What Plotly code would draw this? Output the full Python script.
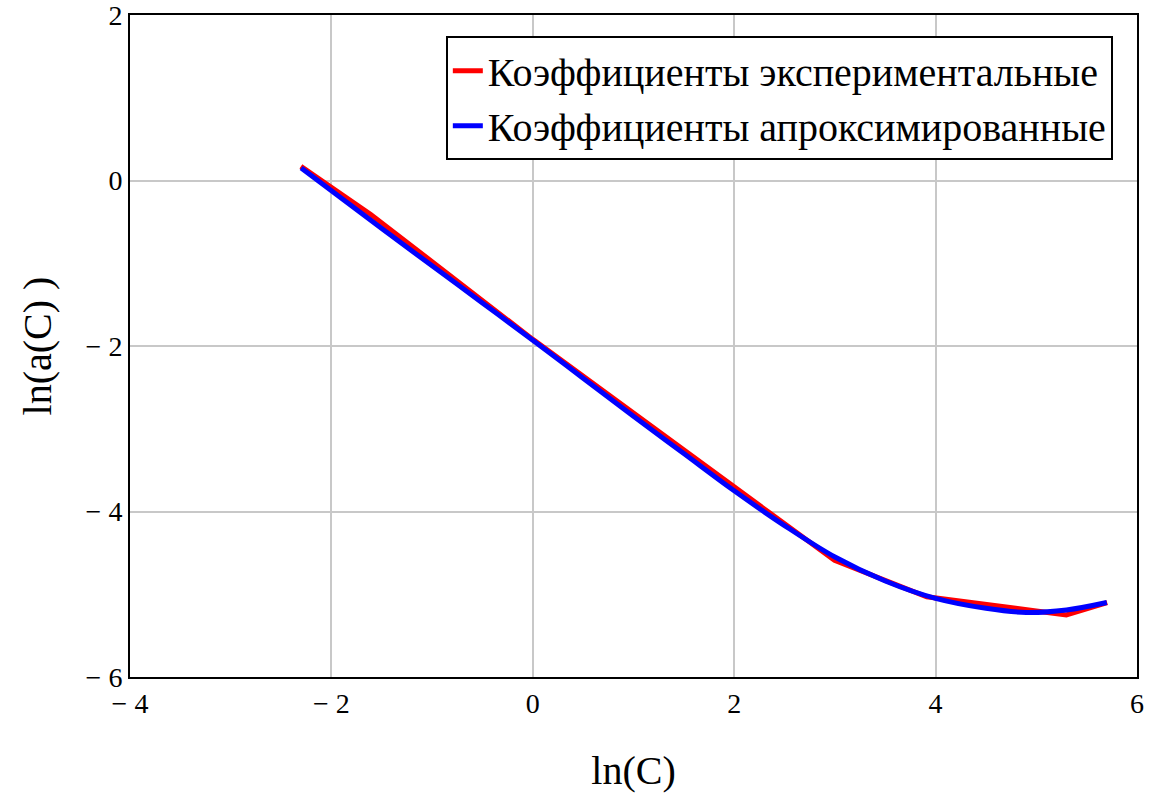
import plotly.graph_objects as go

# Experimental coefficients (ln C, ln a(C))
x_exp = [-2.303, -1.609, 0.0, 2.996, 3.912, 5.298, 5.704]
y_exp = [0.17, -0.41, -1.92, -4.59, -5.03, -5.25, -5.10]

# Approximated coefficients
x_apr = [-2.3, -1.5, -1.0, -0.5, 0.0, 0.5, 1.0, 1.5, 2.0, 2.5, 3.0, 3.5, 4.0, 4.5, 4.9, 5.3, 5.7]
y_apr = [0.15, -0.58, -1.03, -1.48, -1.93, -2.39, -2.85, -3.30, -3.75, -4.17, -4.55, -4.84, -5.05, -5.17, -5.22, -5.19, -5.10]

x_ticks = [-4, -2, 0, 2, 4, 6]
x_ticktext = ["− 4", "− 2", "0", "2", "4", "6"]
y_ticks = [-6, -4, -2, 0, 2]
y_ticktext = ["− 6", "− 4", "− 2", "0", "2"]

font_family = "Liberation Serif"

fig = go.Figure()
fig.add_trace(go.Scatter(x=x_exp, y=y_exp, mode="lines", name="Коэффициенты экспериментальные",
                         line=dict(color="#ff0000", width=5)))
fig.add_trace(go.Scatter(x=x_apr, y=y_apr, mode="lines", name="Коэффициенты апроксимированные",
                         line=dict(color="#0000ff", width=5, shape="spline")))

axis_common = dict(showgrid=True, gridcolor="#c8c8c8", gridwidth=2, zeroline=False,
                   showline=True, linecolor="black", linewidth=2, mirror=True,
                   automargin=False, ticklabeloverflow="allow",
                   ticks="", tickfont=dict(family=font_family, size=28, color="black"))

fig.update_layout(
    template="none",
    width=1157, height=793,
    paper_bgcolor="white", plot_bgcolor="white",
    margin=dict(l=130, r=20, t=15, b=116, pad=0),
    font=dict(family=font_family, color="black"),
    xaxis=dict(range=[-4, 6], tickvals=x_ticks, ticktext=x_ticktext,
               title=dict(text="ln(C)", font=dict(family=font_family, size=40), standoff=42),
               **axis_common),
    yaxis=dict(range=[-6, 2], tickvals=y_ticks, ticktext=y_ticktext,
               title=dict(text="ln(a(C) )", font=dict(family=font_family, size=40), standoff=22),
               **axis_common),
    legend=dict(x=0.976, y=0.968, xanchor="right", yanchor="top",
                bordercolor="black", borderwidth=2, bgcolor="white",
                font=dict(family=font_family, size=40, color="black"),
                tracegroupgap=0),
    showlegend=True,
)

fig.write_html("out.html", config={"displayModeBar": False},
               post_script="document.body.style.margin='0';")
